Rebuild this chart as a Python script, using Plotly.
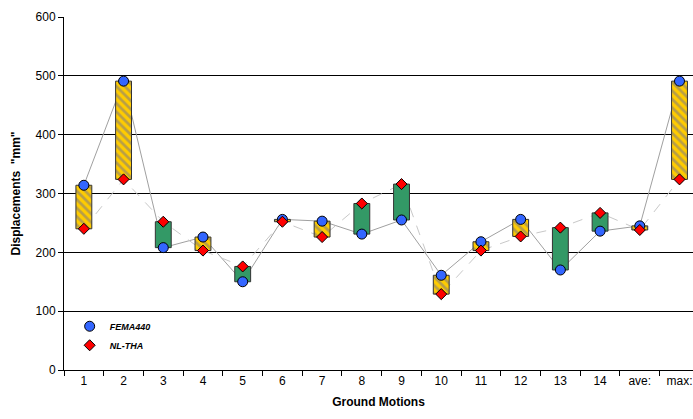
import plotly.graph_objects as go

categories = ["1", "2", "3", "4", "5", "6", "7", "8", "9", "10", "11", "12", "13", "14", "ave:", "max:"]
fema440 = [314, 491, 208, 226, 150, 256, 253, 231, 255, 161, 218, 256, 170, 236, 245, 491]
nl_tha = [240, 324, 252, 203, 176, 252, 226, 283, 316, 129, 203, 227, 242, 267, 238, 324]

base_vals = [min(a, b) for a, b in zip(fema440, nl_tha)]
span_fema_high = [a - b if a >= b else None for a, b in zip(fema440, nl_tha)]
span_nl_high = [b - a if b > a else None for a, b in zip(fema440, nl_tha)]

fig = go.Figure()

# connecting lines in the base subplot (drawn beneath the bars)
fig.add_trace(go.Scatter(x=categories, y=fema440, mode="lines",
                         line=dict(color="#A0A0A0", width=1), showlegend=False,
                         xaxis="x", yaxis="y", hoverinfo="skip"))
fig.add_trace(go.Scatter(x=categories, y=nl_tha, mode="lines",
                         line=dict(color="#C8C8C8", width=1, dash="10px,9px"), showlegend=False,
                         xaxis="x", yaxis="y", hoverinfo="skip"))

# range bars in the overlay subplot
fig.add_trace(go.Bar(x=categories, y=span_fema_high, base=base_vals, width=0.4,
                     marker=dict(color="#FFCC00", line=dict(color="#333333", width=1),
                                 pattern=dict(shape="\\", fgcolor="#6F6F8F", bgcolor="#FFCC00",
                                              size=6, solidity=0.45)),
                     showlegend=False, xaxis="x2", yaxis="y2"))
fig.add_trace(go.Bar(x=categories, y=span_nl_high, base=base_vals, width=0.4,
                     marker=dict(color="#339966", line=dict(color="#333333", width=1)),
                     showlegend=False, xaxis="x2", yaxis="y2"))

fig.add_trace(go.Scatter(x=categories, y=fema440, mode="markers", name="<b><i>FEMA440</i></b>",
                         marker=dict(symbol="circle", size=10, color="#3366FF",
                                     line=dict(color="#000000", width=1)),
                         xaxis="x2", yaxis="y2"))
fig.add_trace(go.Scatter(x=categories, y=nl_tha, mode="markers", name="<b><i>NL-THA</i></b>",
                         marker=dict(symbol="diamond", size=8.5, color="#FF0000",
                                     line=dict(color="#000000", width=1)),
                         xaxis="x2", yaxis="y2"))

font = dict(family="Liberation Sans, Arial, sans-serif", size=12, color="#000000")

fig.update_layout(
    width=693, height=419,
    margin=dict(l=64, r=0, t=17, b=49, autoexpand=False),
    paper_bgcolor="white", plot_bgcolor="white",
    font=font,
    barmode="overlay",
    xaxis=dict(type="category", categoryorder="array", categoryarray=categories,
               range=[-0.5, 15.34], tickson="boundaries", ticks="outside", ticklen=5,
               tickcolor="black", showline=True, linecolor="black", linewidth=1,
               showgrid=False, zeroline=False, tickfont=font, automargin=False,
               title=dict(text="<b>Ground Motions</b>", font=font, standoff=10)),
    yaxis=dict(range=[0, 600], tickvals=[0, 100, 200, 300, 400, 500, 600],
               ticks="outside", ticklen=5, tickcolor="black", showline=True,
               linecolor="black", linewidth=1, showgrid=True, gridcolor="#000000",
               gridwidth=1, zeroline=False, tickfont=font, automargin=False,
               title=dict(text='<b>Displacements  "mm"</b>', font=font, standoff=12)),
    xaxis2=dict(type="category", categoryorder="array", categoryarray=categories,
                overlaying="x", matches="x", visible=False),
    yaxis2=dict(overlaying="y", matches="y", visible=False),
    legend=dict(x=0.009, y=0.165, xanchor="left", yanchor="top",
                font=dict(family="Liberation Sans, Arial, sans-serif", size=9, color="#000000"),
                bgcolor="rgba(0,0,0,0)", itemwidth=30, tracegroupgap=0),
    showlegend=True,
)

fig.write_html("out.html", config={"displayModeBar": False},
               post_script="document.body.style.margin='0';document.body.style.overflow='hidden';")
